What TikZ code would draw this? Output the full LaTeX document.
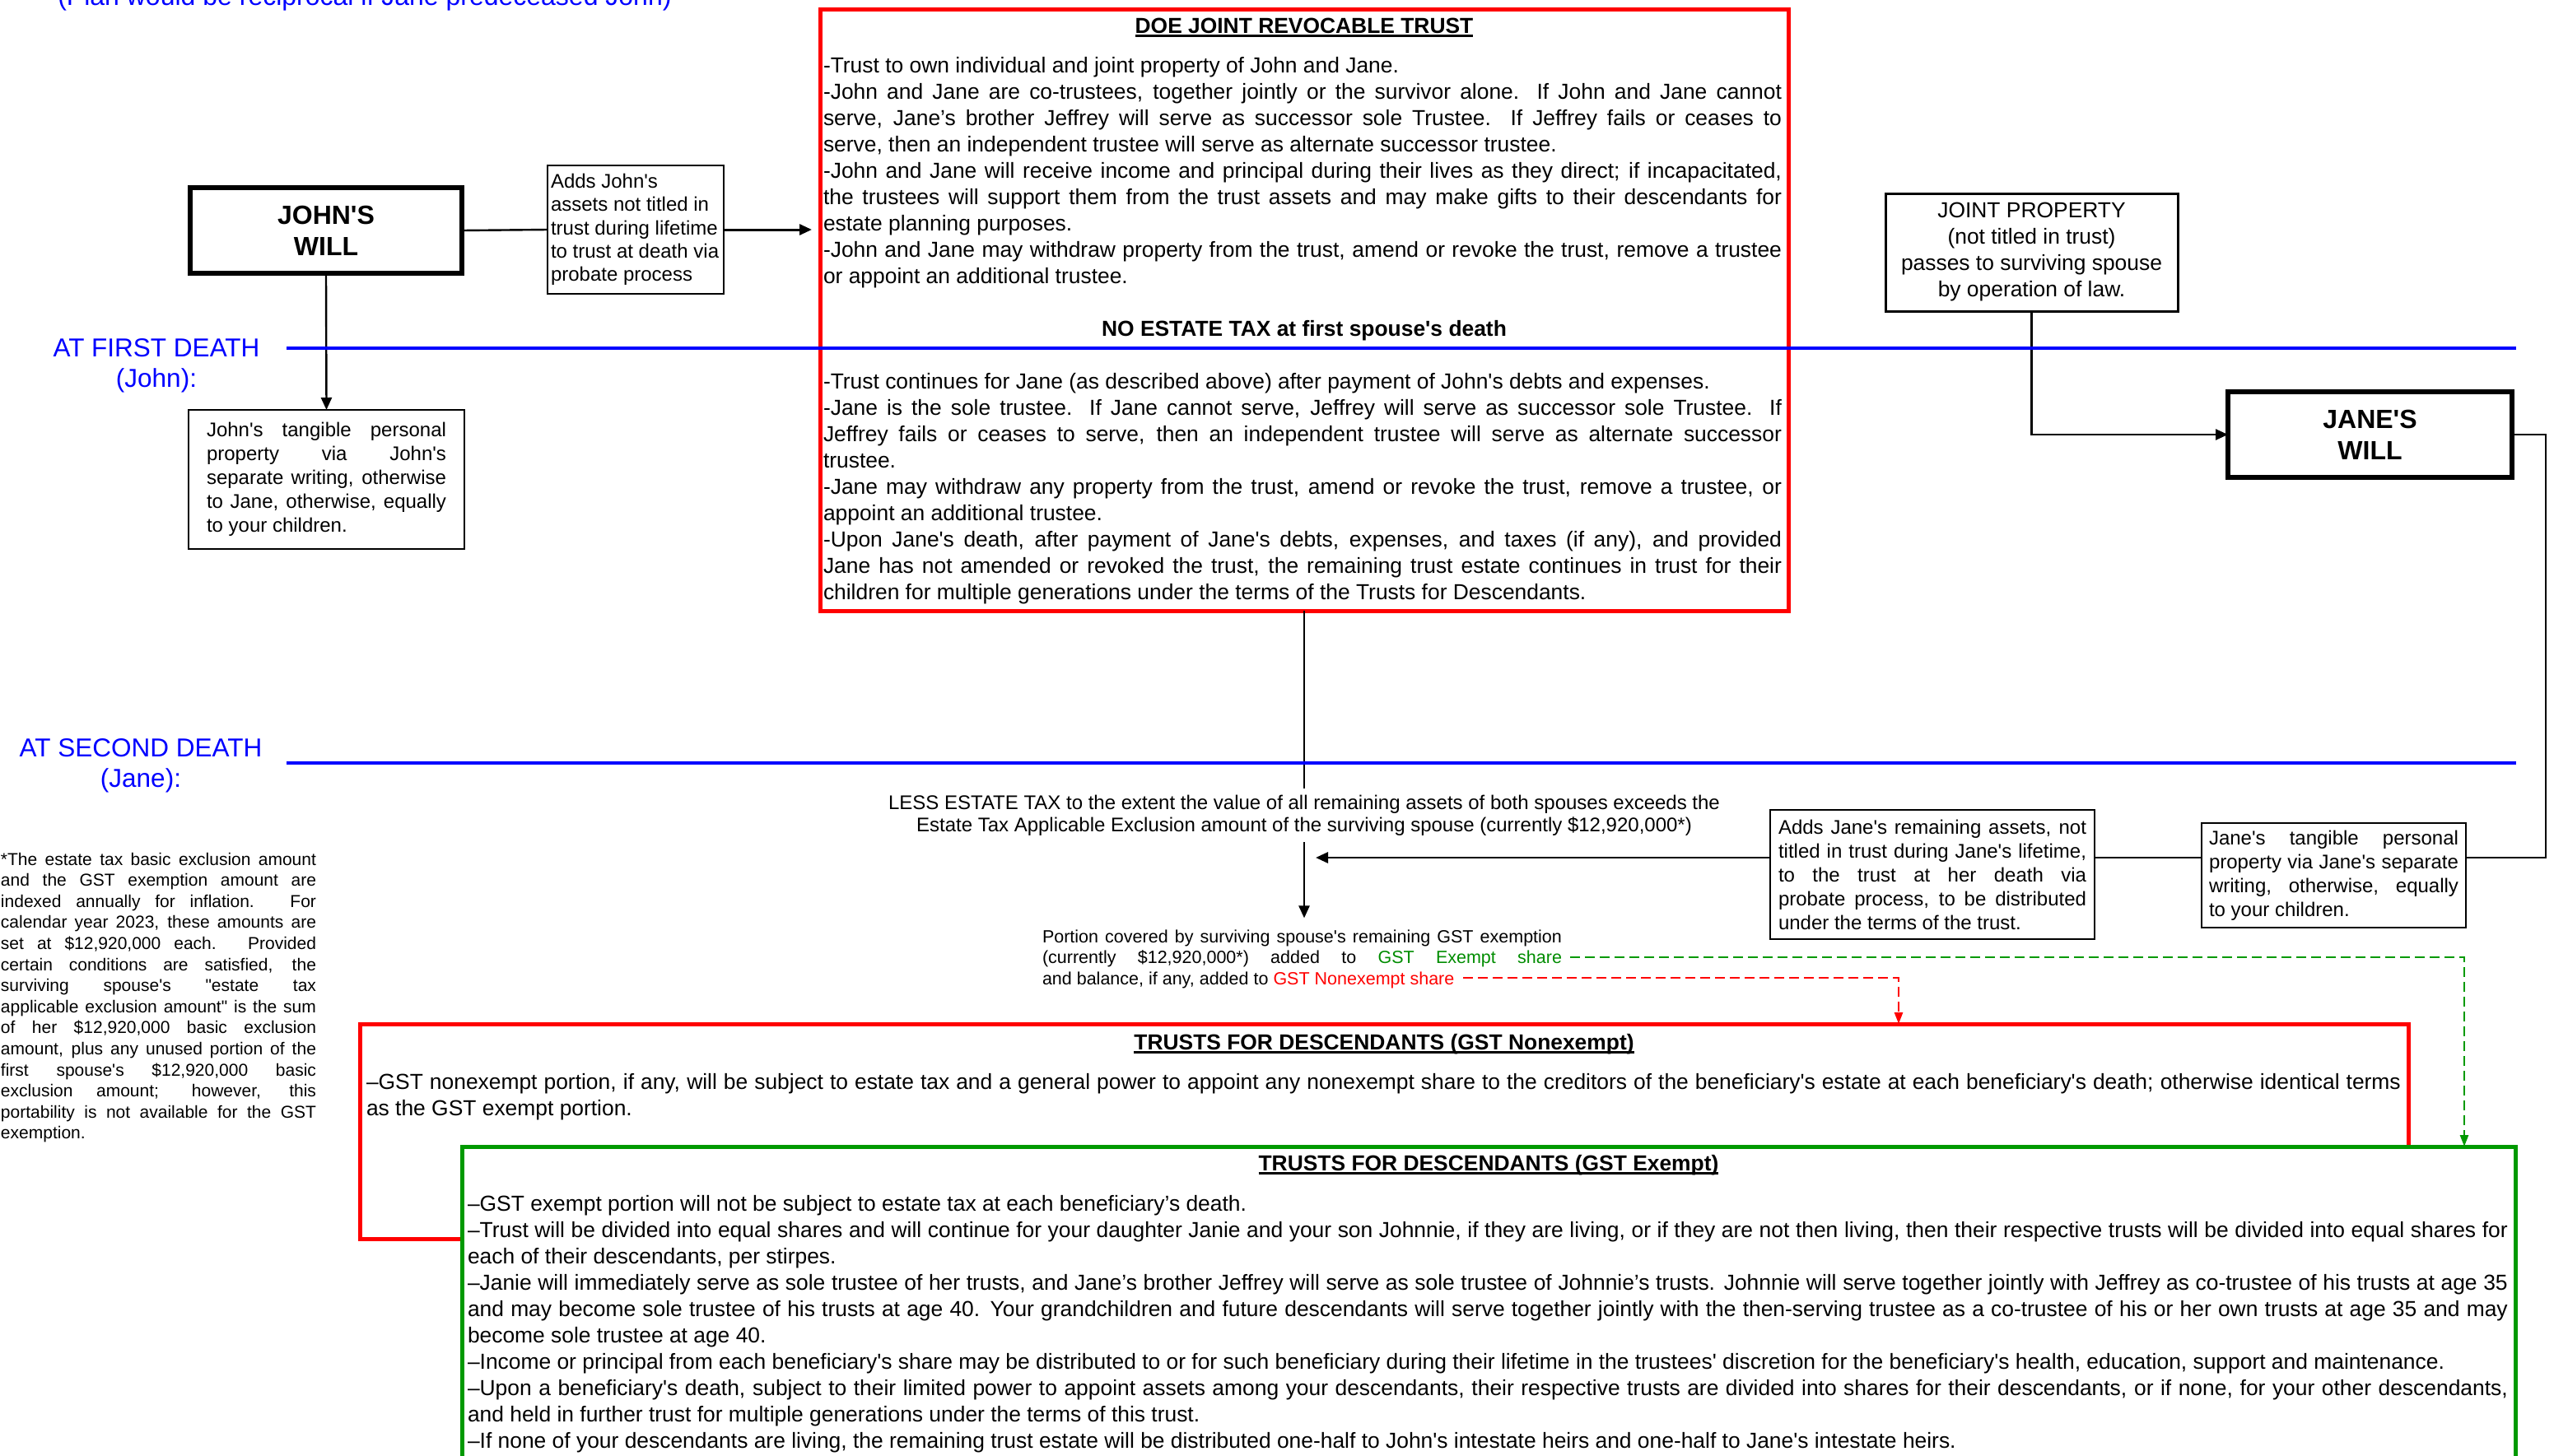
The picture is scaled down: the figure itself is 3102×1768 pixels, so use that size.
\documentclass[tikz,border=0pt]{standalone}
\usepackage{fontspec}
\defaultfontfeatures[\rmfamily]{}
\setmainfont{Liberation Sans}
\usetikzlibrary{arrows.meta}
\definecolor{fblue}{RGB}{0,0,255}
\definecolor{fred}{RGB}{255,0,0}
\definecolor{fgreen}{RGB}{0,153,0}
\definecolor{fgtext}{RGB}{0,140,0}
\newcommand\jline[1]{\hbox to\hsize{#1}}
\newcommand\eline[1]{\hbox to\hsize{#1\hfil}}
\newcommand\cenline[1]{\hbox to\hsize{\hfil#1\hfil}}
\newcommand\block[2]{\vtop{\hsize=#1\relax #2}}
\newcommand\myul[1]{\setbox0=\hbox{#1}\rlap{\rule[-2.4pt]{\wd0}{1.3pt}}\box0}
\hbadness=10000
\hfuzz=20pt
\tikzset{
  every node/.style={outer sep=0pt},
  txt/.style={inner sep=0pt},
  body/.style={font=\fontsize{13.2pt}{16pt}\selectfont},
  boldbody/.style={font=\fontsize{13.2pt}{16pt}\selectfont\bfseries},
  small/.style={font=\fontsize{12pt}{14.5pt}\selectfont},
  smalltight/.style={font=\fontsize{12pt}{14.15pt}\selectfont},
  lbl/.style={text=fblue, font=\fontsize{15.75pt}{18.5pt}\selectfont},
  thinbox/.style={draw, line width=1pt, inner sep=0pt},
  willbox/.style={draw, line width=2.6pt, inner sep=0pt, font=\fontsize{16pt}{19pt}\selectfont\bfseries},
  bigbox/.style={line width=2.5pt, inner sep=0pt},
  conn/.style={line width=1.2pt},
  arr/.style={conn, -{Triangle[length=7.5pt,width=6.5pt]}},
  deathline/.style={fblue, line width=2pt},
  gdash/.style={fgreen, line width=1.3pt, dash pattern=on 6pt off 3pt, -{Triangle[length=7pt,width=5pt]}},
  rdash/.style={fred, line width=1.3pt, dash pattern=on 6pt off 3pt, -{Triangle[length=7pt,width=5pt]}}
}
\begin{document}
\begin{tikzpicture}[x=0.5pt,y=-0.5pt]
\useasboundingbox (0,0) rectangle (3102,1768);

% top note (cut off by the page edge)
\node[txt, lbl, font=\fontsize{16pt}{19pt}\selectfont, anchor=base] (plan) at (443,6) {(Plan would be reciprocal if Jane predeceased John)};

% ---------- DOE JOINT REVOCABLE TRUST ----------
\node[bigbox, draw=fred, minimum width=588pt, minimum height=365.5pt] (doe) at (1584,376.5) {};
\node[txt, boldbody, anchor=base] (doetitle) at (1584,40) {\myul{DOE JOINT REVOCABLE TRUST}};
\node[txt, body, anchor=base west] (doe1) at (1000,88) {\block{582pt}{%
\eline{-Trust to own individual and joint property of John and Jane.}
\jline{-John and Jane are co-trustees, together jointly or the survivor alone.  If John and Jane cannot}
\jline{serve, Jane’s brother Jeffrey will serve as successor sole Trustee.  If Jeffrey fails or ceases to}
\eline{serve, then an independent trustee will serve as alternate successor trustee.}
\jline{-John and Jane will receive income and principal during their lives as they direct; if incapacitated,}
\jline{the trustees will support them from the trust assets and may make gifts to their descendants for}
\eline{estate planning purposes.}
\jline{-John and Jane may withdraw property from the trust, amend or revoke the trust, remove a trustee}
\eline{or appoint an additional trustee.}}};
\node[txt, boldbody, anchor=base] (noestate) at (1584,408) {NO ESTATE TAX at first spouse's death};
\node[txt, body, anchor=base west] (doe2) at (1000,472) {\block{582pt}{%
\eline{-Trust continues for Jane (as described above) after payment of John's debts and expenses.}
\jline{-Jane is the sole trustee.  If Jane cannot serve, Jeffrey will serve as successor sole Trustee.  If}
\jline{Jeffrey fails or ceases to serve, then an independent trustee will serve as alternate successor}
\eline{trustee.}
\jline{-Jane may withdraw any property from the trust, amend or revoke the trust, remove a trustee, or}
\eline{appoint an additional trustee.}
\jline{-Upon Jane's death, after payment of Jane's debts, expenses, and taxes (if any), and provided}
\jline{Jane has not amended or revoked the trust, the remaining trust estate continues in trust for their}
\eline{children for multiple generations under the terms of the Trusts for Descendants.}}};

% ---------- John side ----------
\node[willbox, minimum width=165pt, minimum height=52pt] (johnwill) at (396,280) {\block{150pt}{\cenline{JOHN'S}\cenline{WILL}}};
\node[thinbox, smalltight, minimum width=107pt, minimum height=78pt] (addsjohn) at (772,279) {\block{103pt}{%
\eline{Adds John's}\eline{assets not titled in}\eline{trust during lifetime}\eline{to trust at death via}\eline{probate process}}};
\node[thinbox, small, minimum width=167.5pt, minimum height=84.5pt] (johntang) at (396.5,582.5) {\block{145.5pt}{%
\jline{John's tangible personal}\jline{property via John's}\jline{separate writing, otherwise}\jline{to Jane, otherwise, equally}\eline{to your children.}}};

% ---------- Jane side ----------
\node[thinbox, line width=1.5pt, body, minimum width=177.5pt, minimum height=71.5pt] (joint) at (2467.5,306.5) {\block{170pt}{%
\cenline{JOINT PROPERTY}\cenline{(not titled in trust)}\cenline{passes to surviving spouse}\cenline{by operation of law.}}};
\node[willbox, minimum width=172.5pt, minimum height=52pt] (janewill) at (2878.5,528) {\block{150pt}{\cenline{JANE'S}\cenline{WILL}}};
\node[thinbox, small, minimum width=160.5pt, minimum height=63.5pt] (jtang) at (2834.5,1063.5) {\block{151.5pt}{%
\jline{Jane's tangible personal}\jline{property via Jane's separate}\jline{writing, otherwise, equally}\eline{to your children.}}};
\node[thinbox, small, minimum width=197pt, minimum height=78.5pt] (addsjane) at (2347,1062.5) {\block{187pt}{%
\jline{Adds Jane's remaining assets, not}\jline{titled in trust during Jane's lifetime,}\jline{to the trust at her death via}\jline{probate process, to be distributed}\eline{under the terms of the trust.}}};

% ---------- second death text ----------
\node[txt, font=\fontsize{12pt}{13.75pt}\selectfont, inner ysep=4pt, anchor=base] (less) at (1584,983) {\block{520pt}{%
\cenline{LESS ESTATE TAX to the extent the value of all remaining assets of both spouses exceeds the}
\cenline{Estate Tax Applicable Exclusion amount of the surviving spouse (currently \$12,920,000*)}}};
\node[txt, font=\fontsize{10.75pt}{12.75pt}\selectfont, inner xsep=0pt, inner ysep=7pt, anchor=base west] (portion) at (1266,1145) {\block{315.5pt}{%
\jline{Portion covered by surviving spouse's remaining GST exemption}
\jline{(currently \$12,920,000*) added to \textcolor{fgtext}{GST Exempt share}}
\eline{and balance, if any, added to \textcolor{fred}{GST Nonexempt share}}}};

\node[txt, font=\fontsize{10.5pt}{12.8pt}\selectfont, anchor=base west] (foot) at (1,1051) {\block{191.5pt}{%
\jline{*The estate tax basic exclusion amount}
\jline{and the GST exemption amount are}
\jline{indexed annually for inflation.  For}
\jline{calendar year 2023, these amounts are}
\jline{set at \$12,920,000 each.  Provided}
\jline{certain conditions are satisfied, the}
\jline{surviving spouse's "estate tax}
\jline{applicable exclusion amount" is the sum}
\jline{of her \$12,920,000 basic exclusion}
\jline{amount, plus any unused portion of the}
\jline{first spouse's \$12,920,000 basic}
\jline{exclusion amount; however, this}
\jline{portability is not available for the GST}
\eline{exemption.}}};

% ---------- trusts for descendants ----------
\node[bigbox, draw=fred, minimum width=1244pt, minimum height=130.5pt] (nonex) at (1681,1374.5) {};
\node[txt, boldbody, anchor=base] (nonextitle) at (1681,1275) {\myul{TRUSTS FOR DESCENDANTS (GST Nonexempt)}};
\node[txt, body, anchor=base west] (nonexbody) at (445,1323) {\block{1235.5pt}{%
\jline{–GST nonexempt portion, if any, will be subject to estate tax and a general power to appoint any nonexempt share to the creditors of the beneficiary's estate at each beneficiary's death; otherwise identical terms}
\eline{as the GST exempt portion.}}};

\node[bigbox, draw=fgreen, fill=white, minimum width=1247pt, minimum height=213.5pt] (exempt) at (1808,1606.5) {};
\node[txt, boldbody, anchor=base] (exempttitle) at (1808,1422) {\myul{TRUSTS FOR DESCENDANTS (GST Exempt)}};
\node[txt, body, anchor=base west] (exemptbody) at (568,1471) {\block{1239pt}{%
\eline{–GST exempt portion will not be subject to estate tax at each beneficiary’s death.}
\jline{–Trust will be divided into equal shares and will continue for your daughter Janie and your son Johnnie, if they are living, or if they are not then living, then their respective trusts will be divided into equal shares for}
\eline{each of their descendants, per stirpes.}
\jline{–Janie will immediately serve as sole trustee of her trusts, and Jane’s brother Jeffrey will serve as sole trustee of Johnnie’s trusts. Johnnie will serve together jointly with Jeffrey as co-trustee of his trusts at age 35}
\jline{and may become sole trustee of his trusts at age 40.  Your grandchildren and future descendants will serve together jointly with the then-serving trustee as a co-trustee of his or her own trusts at age 35 and may}
\eline{become sole trustee at age 40.}
\eline{–Income or principal from each beneficiary's share may be distributed to or for such beneficiary during their lifetime in the trustees' discretion for the beneficiary's health, education, support and maintenance.}
\jline{–Upon a beneficiary's death, subject to their limited power to appoint assets among your descendants, their respective trusts are divided into shares for their descendants, or if none, for your other descendants,}
\eline{and held in further trust for multiple generations under the terms of this trust.}
\eline{–If none of your descendants are living, the remaining trust estate will be distributed one-half to John's intestate heirs and one-half to Jane's intestate heirs.}}};

% ---------- blue time lines and labels ----------
\node[txt, lbl, anchor=base] (firstdeath) at (190,433) {\block{200pt}{\cenline{AT FIRST DEATH}\cenline{(John):}}};
\node[txt, lbl, anchor=base] (seconddeath) at (171,919) {\block{200pt}{\cenline{AT SECOND DEATH}\cenline{(Jane):}}};

% ---------- coordinates ----------
\coordinate (fdl) at (348,423);
\coordinate (fdr) at (3056,423);
\coordinate (sdl) at (348,927);
\coordinate (sdr) at (3056,927);
\coordinate (rt) at (3092,1042);
\coordinate (merge) at (1598,1042);
\coordinate (gstart) at (1907,1163);
\coordinate (gturn) at (2993,1163);
\coordinate (rstart) at (1777,1188);
\coordinate (rturn) at (2306,1188);

% ---------- connectors ----------
\draw[conn] (johnwill.east) -- (addsjohn.west);
\draw[arr, line width=1.5pt, shorten >=5pt] (addsjohn.east) -- (doe.west |- addsjohn.east);
\draw[arr] (johnwill.south) -- (johntang.north);
\draw[arr] (joint.south) |- (janewill.west);
\draw[conn] (janewill.east) -| (rt) -- (jtang.east |- rt);
\draw[conn] (jtang.west |- rt) -- (addsjane.east |- rt);
\draw[arr, line width=1.4pt] (addsjane.west |- rt) -- (merge);
\draw[conn] (doe.south) -- (doe.south |- less.north);
\draw[arr] (doe.south |- less.south) -- (doe.south |- portion.north);
\draw[gdash] (gstart) -| (gturn |- exempt.north);
\draw[rdash] (rstart) -| (rturn |- nonex.north);

\draw[deathline] (fdl) -- (fdr);
\draw[deathline] (sdl) -- (sdr);
\end{tikzpicture}
\end{document}
